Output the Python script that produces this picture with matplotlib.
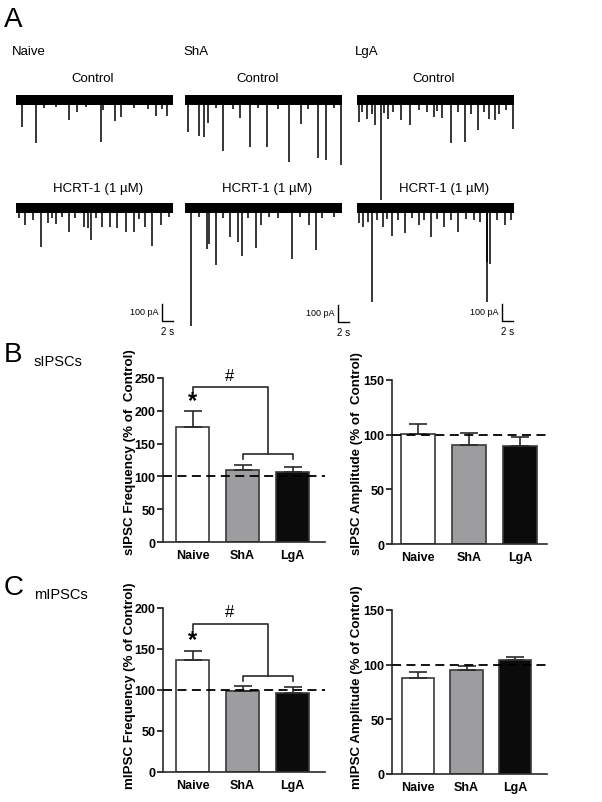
import matplotlib
matplotlib.use('Agg')
import matplotlib.pyplot as plt

plt.rcParams['font.family'] = ['Liberation Sans', 'DejaVu Sans']

# ---------------------------------------------------------------
# data: trace events (time in s, amplitude in pA, downward)
# ---------------------------------------------------------------
naive_ctrl_t = [1.1, 3.6, 5.0, 7.2, 9.5, 10.9, 12.5, 15.1, 15.6, 17.6, 18.7, 21.0, 23.5, 25.0, 26.0, 26.9]
naive_ctrl_a = [160, 250, 45, 40, 120, 70, 40, 245, 60, 125, 100, 45, 50, 95, 55, 95]

sha_ctrl_t = [0.5, 2.5, 3.4, 4.1, 5.5, 6.8, 8.5, 9.8, 11.6, 13.0, 14.7, 16.5, 18.5, 20.6, 22.0, 23.7, 25.1, 26.5, 27.9]
sha_ctrl_a = [190, 210, 220, 135, 45, 300, 50, 105, 275, 45, 275, 50, 365, 140, 50, 340, 355, 45, 380]

lga_ctrl_t = [0.3, 0.9, 1.8, 2.6, 3.2, 4.2, 4.9, 5.6, 6.5, 7.8, 9.4, 11.0, 12.5, 13.7, 14.3, 15.2,
              16.8, 18.0, 19.3, 20.3, 21.5, 22.7, 23.5, 24.6, 25.3, 26.5, 27.8]
lga_ctrl_a = [130, 70, 110, 80, 145, 590, 75, 110, 70, 120, 145, 60, 70, 100, 65, 105,
              255, 70, 245, 80, 175, 70, 110, 120, 80, 60, 170]

naive_hcrt_t = [0.5, 1.6, 3.0, 4.5, 5.7, 6.5, 7.1, 8.2, 9.4, 10.5, 12.2, 12.8, 13.3, 14.3, 15.4, 16.7,
                18.1, 19.7, 21.0, 22.0, 23.0, 24.3, 25.9, 27.2]
naive_hcrt_a = [60, 100, 70, 230, 90, 60, 95, 55, 140, 60, 110, 120, 190, 60, 110, 110,
                120, 140, 140, 65, 110, 225, 100, 55]

sha_hcrt_t = [1.1, 2.5, 3.9, 4.2, 5.5, 6.8, 8.1, 9.4, 10.1, 11.2, 12.6, 13.6, 15.0, 16.5, 19.1, 20.5,
              22.1, 23.3, 24.5, 26.5]
sha_hcrt_a = [695, 50, 240, 210, 335, 60, 170, 200, 280, 60, 235, 100, 55, 60, 300, 55,
              100, 245, 60, 50]

lga_hcrt_t = [0.3, 1.1, 2.0, 2.7, 3.5, 4.6, 5.3, 6.3, 7.4, 8.6, 9.8, 11.1, 12.0, 13.2, 14.3, 15.5,
              16.8, 18.0, 19.5, 20.8, 22.0, 23.1, 23.2, 23.8, 25.0, 26.4, 27.5]
lga_hcrt_a = [90, 110, 80, 555, 70, 110, 65, 165, 70, 145, 60, 100, 70, 170, 65, 110,
              70, 140, 65, 70, 80, 320, 555, 330, 70, 100, 70]

# ---------------------------------------------------------------
# data: bar charts (% of control)
# ---------------------------------------------------------------
groups = ['Naive', 'ShA', 'LgA']
sipsc_freq = [175, 110, 107]
sipsc_freq_sem = [25, 8, 8]
sipsc_amp = [100.5, 91, 89.5]
sipsc_amp_sem = [9, 10.5, 8]
mipsc_freq = [137, 98.5, 96.5]
mipsc_freq_sem = [10, 6, 7]
mipsc_amp = [88, 95, 104]
mipsc_amp_sem = [5, 4, 3]

bar_colors = ['white', '#9d9c9f', '#0b0b0b']

# ---------------------------------------------------------------
# helpers (pixel layout)
# ---------------------------------------------------------------
W, H = 602, 803
fig = plt.figure(figsize=(W / 100, H / 100), dpi=100)


def px_axes(left, top, right, bottom):
    return fig.add_axes([left / W, 1 - bottom / H, (right - left) / W, (bottom - top) / H])


def ftext(x, y, s, **kw):
    fig.text(x / W, 1 - y / H, s, **kw)


PX_PER_PA = 0.17
TRACE_W = 157


def draw_trace(left, base_y, t, amp):
    top = base_y - 60 * PX_PER_PA
    bot = base_y + 750 * PX_PER_PA
    ax = px_axes(left, top, left + TRACE_W, bot)
    ax.set_xlim(0, 28)
    ax.set_ylim(-750, 60)
    ax.axis('off')
    ax.fill_between([0, 28], -32, 32, color='black', lw=0)
    ax.vlines(t, 0, [-a for a in amp], color='black', lw=1.1)
    return ax


def scale_bar(ax, x0, y0):
    ax.plot([x0, x0, x0 + 2], [y0 + 100, y0, y0], color='black', lw=1.0, clip_on=False)
    ax.text(x0 - 0.6, y0 + 55, '100 pA', ha='right', va='center', fontsize=6.5)
    ax.text(x0 + 1, y0 - 58, '2 s', ha='center', va='center', fontsize=7)


# ---------------------------------------------------------------
# A: traces
# ---------------------------------------------------------------
ftext(4, 20, 'A', fontsize=20, ha='left', va='center')
ftext(12, 52, 'Naive', fontsize=9.5, ha='left', va='center')
ftext(183, 52, 'ShA', fontsize=9.5, ha='left', va='center')
ftext(355, 52, 'LgA', fontsize=9.5, ha='left', va='center')
for cx in [93, 258, 434]:
    ftext(cx, 79, 'Control', fontsize=9.5, ha='center', va='center')
for cx in [98, 267, 444]:
    ftext(cx, 189, 'HCRT-1 (1 µM)', fontsize=9.5, ha='center', va='center')

draw_trace(16, 101, naive_ctrl_t, naive_ctrl_a)
draw_trace(185, 101, sha_ctrl_t, sha_ctrl_a)
draw_trace(357, 101, lga_ctrl_t, lga_ctrl_a)
ax_n = draw_trace(16, 209, naive_hcrt_t, naive_hcrt_a)
ax_s = draw_trace(185, 209, sha_hcrt_t, sha_hcrt_a)
ax_l = draw_trace(357, 209, lga_hcrt_t, lga_hcrt_a)
scale_bar(ax_n, 26.0, -665)
scale_bar(ax_s, 27.3, -670)
scale_bar(ax_l, 25.9, -663)

# ---------------------------------------------------------------
# B, C: bar charts
# ---------------------------------------------------------------


def bar_panel(rect, xlim, vals, sems, ymax, step, ylabel, label_xy):
    ax = px_axes(*rect)
    x = range(len(groups))
    ax.bar(x, vals, width=0.66, color=bar_colors, edgecolor='#3a3a3a', lw=1.2, zorder=2)
    ax.errorbar(x, vals, yerr=[[0] * len(sems), sems], fmt='none', ecolor='#2a2a2a',
                elinewidth=1.2, capsize=6.5, capthick=1.2, zorder=3)
    ax.axhline(100, color='black', lw=1.3, ls=(0, (5, 3)), zorder=4)
    ax.set_xlim(*xlim)
    ax.set_ylim(0, ymax)
    ax.set_yticks(range(0, ymax + 1, step))
    ax.set_xticks(list(x))
    ax.set_xticklabels(groups, fontsize=9, fontweight='bold')
    for lab in ax.get_yticklabels():
        lab.set_fontweight('bold')
        lab.set_fontsize(9)
    ax.tick_params(axis='x', length=0, pad=5)
    ax.tick_params(axis='y', length=4, width=1.1, pad=1.5)
    for side in ['top', 'right']:
        ax.spines[side].set_visible(False)
    for side in ['left', 'bottom']:
        ax.spines[side].set_linewidth(1.2)
        ax.spines[side].set_color('#2a2a2a')
    ax.set_ylabel(ylabel, fontsize=9.6, fontweight='bold')
    ax.yaxis.set_label_coords(*label_xy)
    return ax


def brackets(ax, top, left_end, mid, low_end, star_y, hash_y):
    ax.plot([0, 0, 1.5, 1.5], [left_end, top, top, mid], color='#2a2a2a', lw=1.2, clip_on=False)
    ax.plot([1, 1, 2, 2], [low_end, mid, mid, low_end], color='#2a2a2a', lw=1.2, clip_on=False)
    ax.text(0, star_y, '*', ha='center', va='center', fontsize=17, fontweight='bold')
    ax.text(0.75, hash_y, '#', ha='center', va='center', fontsize=12)


ftext(4, 355, 'B', fontsize=20, ha='left', va='center')
ftext(34, 362, 'sIPSCs', fontsize=10.5, ha='left', va='center')
ftext(4, 588, 'C', fontsize=20, ha='left', va='center')
ftext(34, 595, 'mIPSCs', fontsize=10.5, ha='left', va='center')

ax_b1 = bar_panel((163, 379, 325, 543), (-0.59, 2.65), sipsc_freq, sipsc_freq_sem, 250, 50,
                  'sIPSC Frequency (% of  Control)', (-0.165, 0.555))
brackets(ax_b1, 236, 229, 134, 127, 215, 254)

bar_panel((392, 381, 547, 545), (-0.51, 2.53), sipsc_amp, sipsc_amp_sem, 150, 50,
          'sIPSC Amplitude (% of  Control)', (-0.19, 0.56))

ax_c1 = bar_panel((163, 609, 325, 773), (-0.59, 2.65), mipsc_freq, mipsc_freq_sem, 200, 50,
                  'mIPSC Frequency (% of Control)', (-0.165, 0.535))
brackets(ax_c1, 180.5, 173, 117.5, 111.5, 161, 196)

bar_panel((392, 611, 547, 775), (-0.53, 2.65), mipsc_amp, mipsc_amp_sem, 150, 50,
          'mIPSC Amplitude (% of Control)', (-0.19, 0.535))

fig.savefig('out.png', dpi=100)
